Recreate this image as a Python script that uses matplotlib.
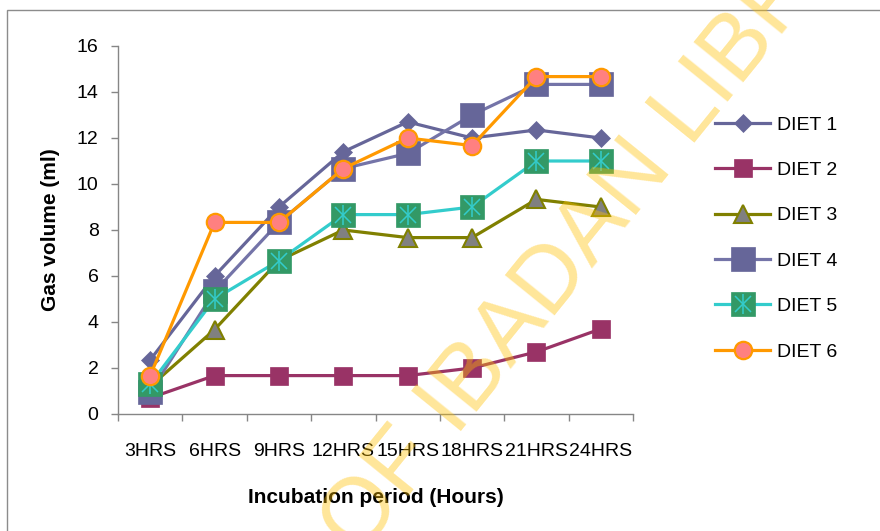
import matplotlib
matplotlib.use("Agg")
import matplotlib.pyplot as plt
from matplotlib.patches import Rectangle
from matplotlib.legend_handler import HandlerTuple
import numpy as np

plt.rcParams['font.family'] = ['Liberation Sans', 'DejaVu Sans']

hours = ['3HRS', '6HRS', '9HRS', '12HRS', '15HRS', '18HRS', '21HRS', '24HRS']
diet1 = [2.35, 6.0, 9.0, 11.4, 12.7, 12.0, 12.35, 12.0]
diet2 = [0.7, 1.67, 1.67, 1.67, 1.67, 2.0, 2.7, 3.7]
diet3 = [1.2, 3.67, 6.67, 8.0, 7.67, 7.67, 9.33, 9.0]
diet4 = [0.95, 5.33, 8.33, 10.67, 11.33, 13.0, 14.33, 14.33]
diet5 = [1.3, 5.0, 6.67, 8.67, 8.67, 9.0, 11.0, 11.0]
diet6 = [1.67, 8.33, 8.33, 10.67, 12.0, 11.67, 14.67, 14.67]
labels = ['DIET 1', 'DIET 2', 'DIET 3', 'DIET 4', 'DIET 5', 'DIET 6']

W, H = 880, 531
fig = plt.figure(figsize=(W / 100, H / 100), dpi=100)
ax = fig.add_axes([118 / W, 1 - 414 / H, (633 - 118) / W, (414 - 46) / H])

x = np.arange(len(hours))
lw = 2.3

l1, = ax.plot(x, diet1, color='#666699', lw=lw, marker='D', ms=8.8,
              mfc='#666699', mec='#666699', mew=0.5, label=labels[0])
l2, = ax.plot(x, diet2, color='#993366', lw=lw, marker='s', ms=13,
              mfc='#993366', mec='#993366', mew=0.5, label=labels[1])
l3, = ax.plot(x, diet3, color='#808000', lw=lw, marker='^', ms=13,
              mfc='#808080', mec='#808000', mew=1.5, label=labels[2])
l4, = ax.plot(x, diet4, color='#7474a8', lw=lw, marker='s', ms=17,
              mfc='#666699', mec='#666699', mew=0.5, label=labels[3])
l5, = ax.plot(x, diet5, color='#33CCCC', lw=lw, marker='s', ms=17,
              mfc='#339966', mec='#339966', mew=0.5, label=labels[4])
l5x, = ax.plot(x, diet5, ls='none', marker='x', ms=11, mec='#33CCCC', mew=1.1)
l5v, = ax.plot(x, diet5, ls='none', marker='|', ms=15, mec='#33CCCC', mew=1.1)
l6, = ax.plot(x, diet6, color='#FF9900', lw=lw, marker='o', ms=12.5,
              mfc='#FF8080', mec='#FF9900', mew=1.6, label=labels[5])

ax.set_xlim(-0.5, len(hours) - 0.5)
ax.set_ylim(0, 16)
ax.set_yticks(np.arange(0, 17, 2))
ax.set_xticks(np.arange(-0.5, len(hours), 1.0))
ax.set_xticklabels([])
ax.set_xticks(x, minor=True)
ax.set_xticklabels(hours, minor=True)
ax.tick_params(axis='x', which='major', direction='out', length=5, width=1, color='#868686')
ax.tick_params(axis='x', which='minor', length=0, pad=21, labelsize=14)
ax.tick_params(axis='y', direction='out', length=5, width=1, color='#868686', pad=9, labelsize=14)

for s in ['top', 'right']:
    ax.spines[s].set_visible(False)
for s in ['left', 'bottom']:
    ax.spines[s].set_color('#868686')
    ax.spines[s].set_linewidth(1)

fig.text(375.5 / W, 1 - 503 / H, 'Incubation period (Hours)', ha='center', va='baseline',
         fontsize=15, fontweight='bold')
fig.text(50 / W, 1 - 230 / H, 'Gas volume (ml)', ha='center', va='center', rotation=90,
         fontsize=15, fontweight='bold')

leg = fig.legend([l1, l2, l3, l4, (l5, l5x, l5v), l6], labels,
                 handler_map={tuple: HandlerTuple(ndivide=1)},
                 loc='upper left', bbox_to_anchor=(715 / W, 1 - 116 / H),
                 frameon=False, fontsize=14, handlelength=2.85, handletextpad=0.35,
                 labelspacing=1.43, borderpad=0, borderaxespad=0)

fig.patches.append(Rectangle((7 / W, -0.2), 1.2, (1 - 9.5 / H) + 0.2, transform=fig.transFigure,
                             fill=False, ec='#8c8c8c', lw=1))

fig.text(-7.6 / W, 1 - 1010.2 / H, 'UNIVERSITY OF IBADAN LIBRARY', rotation=51,
         rotation_mode='anchor', ha='left', va='baseline', fontsize=67,
         family=['Liberation Sans Narrow', 'Liberation Sans'],
         color='#FFC000', alpha=0.4, zorder=100)

fig.savefig('out.png', dpi=100)
